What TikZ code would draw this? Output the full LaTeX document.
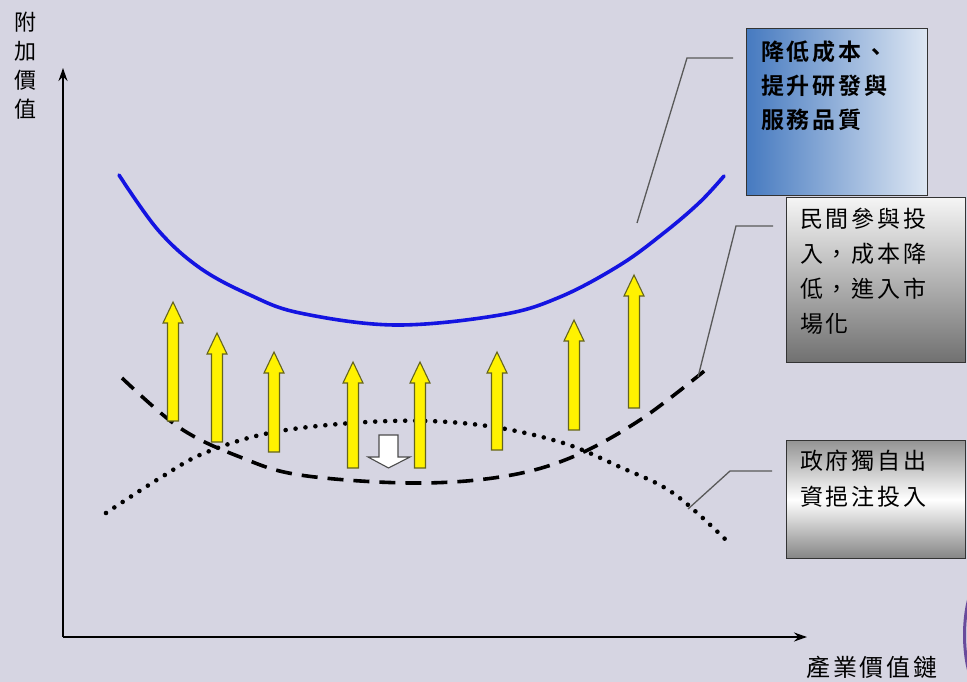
\documentclass[tikz,border=0pt]{standalone}
\usepackage{fontspec}
\newfontfamily\cjk[LetterSpace=12, BoldFont={Noto Sans CJK TC Bold}]{Noto Sans CJK TC}
\usepackage{tikz}
\usetikzlibrary{arrows.meta, calc, positioning}
\definecolor{bgpurple}{RGB}{214,213,226}
\definecolor{curveblue}{RGB}{20,20,225}
\definecolor{boxblue}{RGB}{70,122,192}
\definecolor{boxlight}{RGB}{222,231,243}
\definecolor{olive}{RGB}{100,100,30}
\definecolor{lensring}{RGB}{105,75,155}

\begin{document}
\begin{tikzpicture}[
    x=1pt, y=-1pt,
    box/.style={rectangle, draw=black!80, line width=1.2pt, anchor=north west, inner sep=0pt},
    note/.style={anchor=north west, align=left, inner sep=0pt, font=\cjk\fontsize{23}{35}\selectfont},
    axislabel/.style={align=center, inner sep=0pt, font=\cjk\fontsize{22}{29}\selectfont},
    axis/.style={line width=2pt, -{Stealth[length=13pt, width=9pt]}},
    callout/.style={draw=black!65, line width=1.3pt},
    upblock/.style={draw=olive, line width=1.1pt, fill=yellow, line join=miter},
    downblock/.style={draw=black!70, line width=1.1pt, fill=white}
]
    \fill[bgpurple] (0,0) rectangle (967,682);
    \useasboundingbox (0,0) rectangle (967,682);

    % 座標軸
    \coordinate (origin) at (63,637);
    \coordinate (ytip) at (63,68);
    \coordinate (xtip) at (807,637);
    \draw[axis] (origin) -- (ytip);
    \draw[axis] (origin) -- (xtip);
    \node[axislabel] (ylab) at (25,66) {附\\加\\價\\值};
    \node[axislabel, font=\cjk\fontsize{24}{29}\selectfont] (xlab) at (872,667) {產業價值鏈};

    % 三條曲線
    \draw[curveblue, line width=3.6pt, line cap=round] plot[smooth, tension=0.6] coordinates
        {(119,175) (158,230) (200,268) (250,295) (300,313) (395,325) (500,315) (560,297) (620,265) (665,232) (700,202) (724,176)};
    \draw[black, line width=3.6pt, dash pattern=on 16pt off 10pt] plot[smooth, tension=0.6] coordinates
        {(122,378) (180,428) (240,457) (300,475) (410,483) (500,477) (570,458) (640,420) (708,368)};
    \draw[black, line width=4.6pt, line cap=round, dash pattern=on 0pt off 10pt] plot[smooth, tension=0.6] coordinates
        {(106,513) (160,478) (207,452) (280,431) (390,421) (480,425) (560,442) (620,467) (673,493) (726,540)};

    % 黃色箭頭
    \foreach \x/\t/\b in {173/302/421, 217/333/442, 274/352/452, 353/362/468, 420/362/468, 497/352/450, 574/320/430, 634/275/408}
        \draw[upblock] (\x-5.5,\b) -- (\x-5.5,\t+21) -- (\x-10,\t+21) -- (\x,\t) -- (\x+10,\t+21) -- (\x+5.5,\t+21) -- (\x+5.5,\b) -- cycle;

    % 向下白箭頭
    \draw[downblock] (379,435) -- (398,435) -- (398,457) -- (410,457) -- (388.5,468) -- (368,457) -- (379,457) -- cycle;

    % 說明框
    \node[box, minimum width=181pt, minimum height=167pt, left color=boxblue, right color=boxlight] (cost) at (746,28) {};
    \node[box, minimum width=179pt, minimum height=165pt, top color=white!96!black, bottom color=black!56] (priv) at (786,197) {};
    \node[box, minimum width=179pt, minimum height=118pt, top color=black!42, bottom color=black!48, middle color=white] (gov) at (786,440) {};

    \node[note, font=\cjk\bfseries\fontsize{23}{34}\selectfont, below right=13pt and 15pt of cost.north west] (costtxt) {降低成本、\\提升研發與\\服務品質};
    \node[note, below right=11pt and 14pt of priv.north west] (privtxt) {民間參與投\\入，成本降\\低，進入市\\場化};
    \node[note, below right=10pt and 14pt of gov.north west, font=\cjk\fontsize{23}{36}\selectfont] (govtxt) {政府獨自出\\資挹注投入};

    % 引線
    \coordinate (p1) at (637,223);
    \coordinate (k1) at (687,58);
    \coordinate (e1) at (733,58);
    \coordinate (p2) at (698,377);
    \coordinate (k2) at (736,226);
    \coordinate (e2) at (773,226);
    \coordinate (p3) at (688,509);
    \coordinate (k3) at (730,471);
    \coordinate (e3) at (772,471);
    \draw[callout] (p1) -- (k1) -- (e1);
    \draw[callout] (p2) -- (k2) -- (e2);
    \draw[callout] (p3) -- (k3) -- (e3);

    % 右下角弧
    \draw[lensring, line width=3pt] (969,598) .. controls (963,620) and (963,650) .. (969,672);
\end{tikzpicture}
\end{document}
